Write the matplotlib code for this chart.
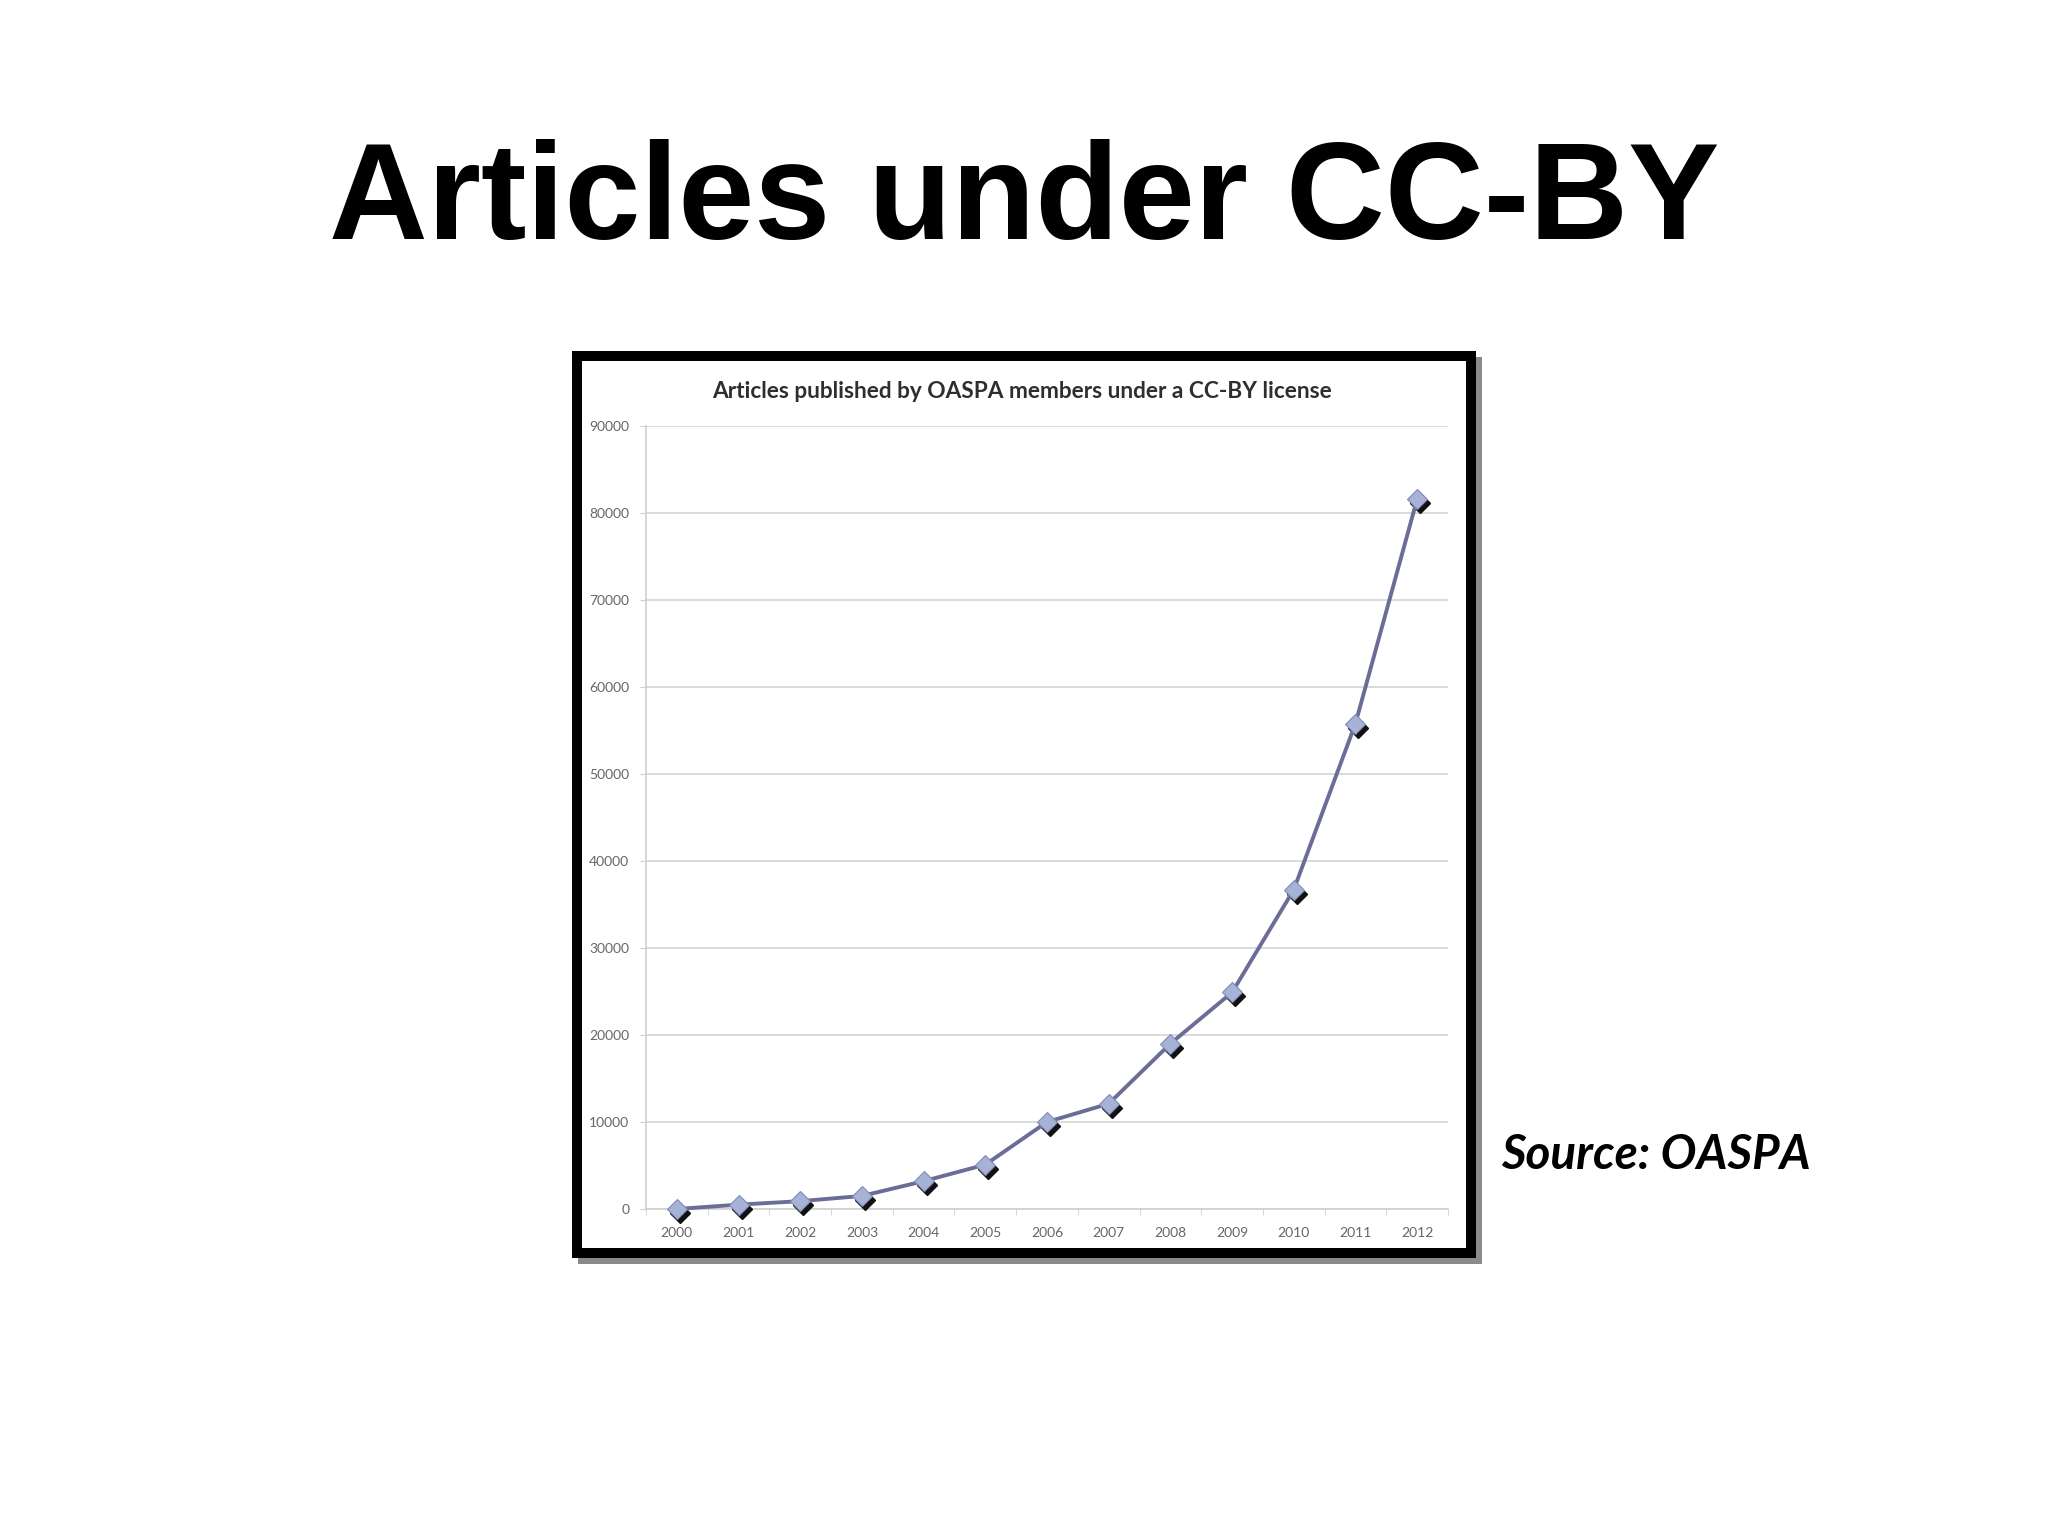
import matplotlib
matplotlib.use("Agg")
import matplotlib.pyplot as plt
from matplotlib.patches import Rectangle
import matplotlib.transforms as mtransforms

years = ["2000", "2001", "2002", "2003", "2004", "2005", "2006",
         "2007", "2008", "2009", "2010", "2011", "2012"]
articles = [0, 500, 900, 1500, 3200, 5100, 10000,
            12100, 19000, 24900, 36700, 55800, 81600]
yticks = [0, 10000, 20000, 30000, 40000, 50000, 60000, 70000, 80000, 90000]

slide_title = "Articles under CC-BY"
chart_title = "Articles published by OASPA members under a CC-BY license"
source_text = "Source: OASPA"

W, H = 2048, 1536
fig = plt.figure(figsize=(W / 100, H / 100), dpi=100)
fig.patch.set_facecolor("white")


def rect_px(x0, y0, x1, y1, **kw):
    """Rectangle given in pixel coords (top-left origin)."""
    return Rectangle((x0 / W, 1 - y1 / H), (x1 - x0) / W, (y1 - y0) / H,
                     transform=fig.transFigure, **kw)


# picture frame with shadow
fig.patches.append(rect_px(578, 357, 1482, 1264, facecolor="#8a8a8a", edgecolor="none", zorder=0))
fig.patches.append(rect_px(572, 351, 1476, 1258, facecolor="black", edgecolor="none", zorder=0))
fig.patches.append(rect_px(582, 361, 1466, 1248, facecolor="white", edgecolor="none", zorder=0))

# slide title
fig.text(1024 / W, 1 - 203 / H, slide_title, ha="center", va="center",
         fontsize=98.5, fontweight="bold", family="Liberation Sans", color="black")

# source
fig.text(1501 / W, 1 - 1155 / H, source_text, ha="left", va="center",
         fontsize=34.3, fontweight="bold", fontstyle="italic", family="Lato", color="black")

# chart title
fig.text(1022 / W, 1 - 391 / H, chart_title, ha="center", va="center",
         fontsize=16.3, fontweight="bold", family="Lato", color="#2e2e2e")

# axes
ax_l, ax_r = 646, 1448
ax_t, ax_b = 426, 1209
ax = fig.add_axes([ax_l / W, 1 - ax_b / H, (ax_r - ax_l) / W, (ax_b - ax_t) / H])
ax.set_zorder(2)
ax.set_facecolor("none")

x = list(range(len(years)))
shadow = mtransforms.offset_copy(ax.transData, fig=fig, x=3, y=-4, units="dots")
ax.plot(x, articles, linestyle="none", marker="D", markersize=10.5,
        markerfacecolor="#111111", markeredgecolor="#111111", transform=shadow, zorder=3,
        clip_on=False)
ax.plot(x, articles, color="#6c6c99", linewidth=2.8, zorder=4, clip_on=False)
ax.plot(x, articles, linestyle="none", marker="D", markersize=10.5,
        markerfacecolor="#a6b2d6", markeredgecolor="#7f8cb8", markeredgewidth=0.8, zorder=5,
        clip_on=False)

ax.set_xlim(-0.5, len(years) - 0.5)
ax.set_ylim(0, 90000)
ax.set_yticks(yticks)
ax.set_yticklabels([str(v) for v in yticks])
ax.set_xticks(x)
ax.set_xticklabels(years)
ax.set_xticks([i - 0.5 for i in range(len(years) + 1)], minor=True)

ax.grid(axis="y", color="#d4d4d4", linewidth=1.2, zorder=1)
ax.set_axisbelow(True)
for s in ["top", "right"]:
    ax.spines[s].set_visible(False)
ax.spines["left"].set_color("#cfcfcf")
ax.spines["bottom"].set_color("#cfcfcf")
ax.spines["left"].set_linewidth(1.2)
ax.spines["bottom"].set_linewidth(1.2)

ax.tick_params(axis="x", which="major", length=0, pad=13, labelsize=10, labelcolor="#666666")
ax.tick_params(axis="x", which="minor", length=4, color="#cfcfcf", direction="out")
ax.tick_params(axis="y", which="major", length=4, color="#cfcfcf", pad=8, labelsize=10,
               labelcolor="#666666")
for lab in ax.get_xticklabels() + ax.get_yticklabels():
    lab.set_family("Lato")

fig.savefig("out.png", dpi=100, facecolor="white")
